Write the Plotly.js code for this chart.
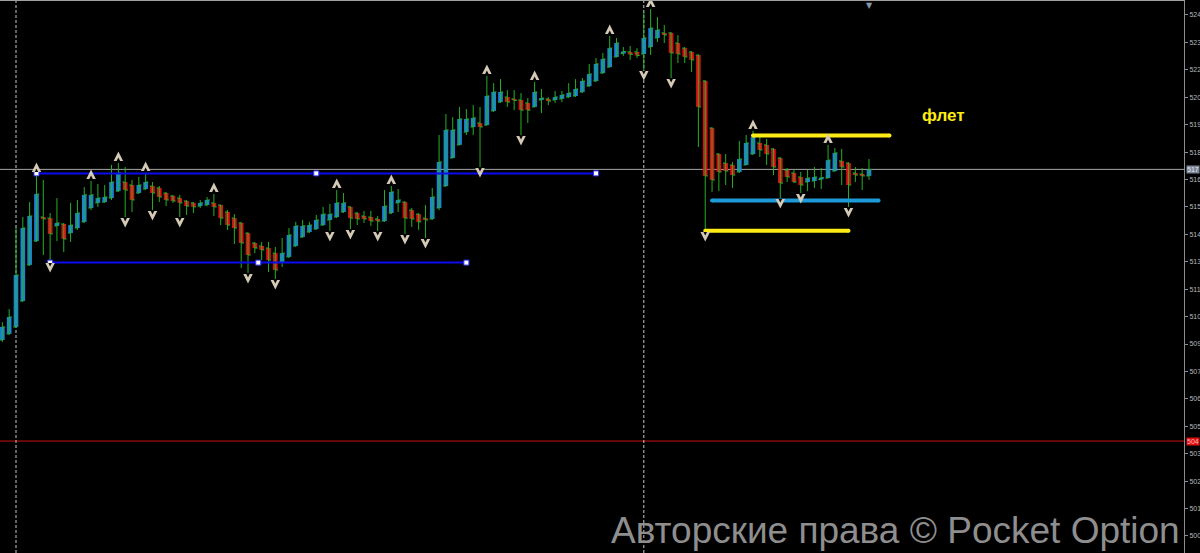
<!DOCTYPE html>
<html>
<head>
<meta charset="utf-8">
<script src="https://cdn.plot.ly/plotly-3.0.1.min.js"></script>
<style>
  html, body { margin: 0; padding: 0; background: #000; overflow: hidden; }
  #chart { width: 1200px; height: 553px; }
</style>
</head>
<body>
<div id="chart"></div>
<script>
// ---- price bars (oldest first) ----
const open = [
  5093.4, 5096.3, 5099.6, 5111.9, 5129.0, 5140.3, 5151.7, 5151.2, 5147.5, 5148.4,
  5144.1, 5146.5, 5149.4, 5156.0, 5158.4, 5158.8, 5160.7, 5164.0, 5168.3, 5166.9,
  5163.1, 5165.0, 5166.4, 5165.5, 5163.1, 5161.7, 5160.7, 5159.3, 5158.4, 5156.9,
  5157.4, 5158.4, 5157.4, 5154.1, 5151.2, 5148.9, 5144.1, 5139.4, 5138.0, 5137.0,
  5134.6, 5130.4, 5132.8, 5138.0, 5142.2, 5144.6, 5146.0, 5147.9, 5150.3, 5151.7,
  5154.1, 5156.5, 5153.6, 5152.2, 5151.7, 5150.8, 5149.8, 5153.6, 5158.4, 5158.8,
  5155.0, 5153.1, 5151.2, 5150.8, 5156.0, 5166.4, 5179.7, 5185.9, 5192.0, 5194.4,
  5196.3, 5195.3, 5202.0, 5206.2, 5208.6, 5207.7, 5207.2, 5205.8, 5203.9, 5207.2,
  5207.7, 5207.2, 5207.7, 5208.6, 5209.1, 5211.0, 5213.8, 5216.2, 5220.0, 5222.8,
  5227.6, 5229.2, 5230.0, 5230.0, 5229.0, 5232.3, 5236.6, 5239.0, 5239.0, 5234.2,
  5231.8, 5230.0, 5228.5, 5216.2, 5193.9, 5181.6, 5177.3, 5176.4, 5173.1, 5176.4,
  5181.6, 5186.8, 5185.9, 5184.0, 5179.7, 5174.0, 5172.6, 5170.7, 5168.3, 5168.8,
  5169.5, 5170.2, 5173.5, 5178.3, 5177.3, 5172.6, 5172.1, 5171.2
];
const high = [
  5101.9, 5108.1, 5147.0, 5151.7, 5158.8, 5172.1, 5169.3, 5153.6, 5160.7, 5148.9,
  5158.4, 5159.8, 5165.9, 5168.8, 5167.4, 5166.9, 5176.4, 5177.3, 5175.4, 5169.3,
  5170.7, 5172.6, 5168.3, 5166.4, 5163.6, 5162.2, 5162.2, 5159.8, 5158.8, 5159.8,
  5161.2, 5162.6, 5157.6, 5155.0, 5153.1, 5149.4, 5144.5, 5139.8, 5139.9, 5139.9,
  5137.5, 5141.8, 5146.5, 5149.4, 5150.3, 5149.4, 5152.7, 5156.5, 5157.9, 5164.5,
  5163.1, 5156.9, 5154.1, 5154.6, 5154.6, 5152.2, 5164.5, 5166.4, 5165.0, 5159.3,
  5156.0, 5153.6, 5157.4, 5165.5, 5190.6, 5200.6, 5199.1, 5203.9, 5202.9, 5204.8,
  5203.9, 5218.6, 5215.2, 5217.1, 5211.9, 5211.9, 5210.5, 5208.1, 5215.7, 5212.4,
  5208.6, 5211.5, 5211.5, 5215.2, 5217.1, 5217.6, 5224.3, 5227.1, 5229.5, 5237.5,
  5236.6, 5232.3, 5232.8, 5231.8, 5248.9, 5250.3, 5246.5, 5242.8, 5239.4, 5238.0,
  5232.3, 5230.4, 5228.9, 5216.7, 5194.3, 5182.0, 5181.6, 5177.8, 5187.8, 5190.6,
  5192.5, 5190.1, 5188.7, 5184.4, 5180.1, 5175.0, 5174.5, 5173.1, 5174.0, 5175.4,
  5175.0, 5185.9, 5184.4, 5184.0, 5177.7, 5175.4, 5175.0, 5179.2
];
const low = [
  5092.5, 5095.8, 5099.1, 5111.4, 5128.5, 5139.9, 5133.7, 5130.4, 5140.3, 5135.1,
  5139.9, 5145.6, 5148.9, 5155.0, 5156.5, 5158.4, 5159.8, 5163.6, 5151.7, 5154.1,
  5162.6, 5164.5, 5155.0, 5158.8, 5156.9, 5158.4, 5151.7, 5152.7, 5153.6, 5156.0,
  5156.9, 5152.2, 5147.9, 5145.6, 5138.9, 5127.5, 5125.2, 5134.6, 5131.3, 5125.6,
  5122.3, 5128.0, 5132.3, 5137.5, 5141.9, 5144.1, 5145.6, 5147.5, 5145.1, 5151.2,
  5153.6, 5146.0, 5147.9, 5148.9, 5147.5, 5145.1, 5149.4, 5153.1, 5154.1, 5143.7,
  5147.0, 5145.6, 5141.8, 5150.3, 5155.0, 5166.0, 5179.5, 5185.7, 5190.6, 5190.6,
  5175.4, 5195.1, 5201.5, 5205.8, 5203.9, 5202.4, 5190.6, 5196.3, 5203.7, 5201.0,
  5204.8, 5205.8, 5206.2, 5208.1, 5208.6, 5210.5, 5213.4, 5215.7, 5219.5, 5222.6,
  5227.4, 5228.1, 5226.2, 5227.1, 5221.4, 5228.5, 5234.7, 5234.2, 5217.6, 5224.7,
  5224.7, 5220.5, 5184.9, 5145.1, 5163.6, 5164.0, 5166.9, 5165.5, 5172.6, 5176.2,
  5181.1, 5180.2, 5176.4, 5171.6, 5160.7, 5168.3, 5167.8, 5163.1, 5164.0, 5165.5,
  5165.0, 5170.0, 5173.3, 5166.9, 5156.5, 5168.3, 5164.5, 5169.3
];
const close = [
  5099.6, 5104.3, 5124.2, 5146.5, 5152.2, 5162.6, 5150.8, 5143.7, 5148.9, 5141.3,
  5147.9, 5153.6, 5162.2, 5162.2, 5160.7, 5161.2, 5168.3, 5172.6, 5164.5, 5159.8,
  5166.9, 5168.3, 5163.1, 5161.2, 5159.8, 5159.3, 5158.4, 5156.9, 5156.5, 5158.4,
  5159.8, 5156.5, 5151.2, 5147.9, 5146.5, 5139.4, 5133.7, 5137.0, 5136.1, 5131.3,
  5126.6, 5134.6, 5143.2, 5147.5, 5147.5, 5147.9, 5150.3, 5153.1, 5153.1, 5158.4,
  5158.4, 5151.2, 5150.8, 5150.8, 5149.8, 5149.8, 5156.9, 5163.6, 5159.8, 5151.2,
  5150.8, 5149.4, 5150.3, 5161.2, 5177.8, 5193.0, 5193.0, 5198.2, 5198.2, 5198.7,
  5194.4, 5209.1, 5211.0, 5211.0, 5206.2, 5207.0, 5202.4, 5202.4, 5211.0, 5208.1,
  5206.7, 5208.6, 5209.6, 5210.5, 5212.4, 5216.2, 5219.5, 5224.3, 5226.6, 5231.8,
  5234.2, 5230.2, 5228.8, 5228.3, 5236.6, 5241.3, 5240.4, 5238.0, 5229.5, 5229.0,
  5227.6, 5226.2, 5203.9, 5171.2, 5169.3, 5173.1, 5173.5, 5171.6, 5179.2, 5186.8,
  5189.6, 5183.5, 5181.6, 5175.4, 5167.8, 5170.7, 5168.3, 5166.9, 5170.2, 5170.7,
  5170.4, 5178.7, 5182.1, 5175.4, 5166.9, 5171.6, 5171.2, 5174.3
];

// ---- fractal bars ----
const fractalUp   = [5, 13, 17, 21, 31, 49, 57, 71, 78, 89, 95, 110, 121];
const fractalDown = [7, 18, 22, 26, 36, 40, 48, 51, 55, 59, 62, 70, 76, 94, 98, 103, 114, 117, 124];

// ---- day separators (bar index) ----
const separators = [2, 94];

// ---- drawn levels: price and bar span ----
const rangeTopPrice = 5172.4;  const rangeTopBars = [5, 46, 87];
const rangeLowPrice = 5130.1;  const rangeLowBars = [7, 37.5, 68];
const flatHighPrice = 5190.4;  const flatHighBars = [110, 130];
const flatMidPrice  = 5159.5;  const flatMidBars  = [104, 128.4];
const flatLowPrice  = 5145.2;  const flatLowBars  = [103, 124];

// ---- price lines ----
const bidPrice = 5174.3;
const alertPrice = 5045.5;

// ---- price scale ticks ----
const yTickStart = 5247.5;
const yTickStep = 13;

// ---------------------------------------------------------------
const W = 1200, H = 553;
const M = { l: 0, r: 16, t: 1, b: 0 };
const plotW = W - M.l - M.r;
const plotH = H - M.t - M.b;
const yRange = [4992.42, 5254.13];
const xRange = [-0.344, 173.16];
const ppx = (yRange[1] - yRange[0]) / plotH;   // price per pixel

// the narrow price scale only has room for the leading digits
const shortPrice = v => String(Math.floor(v / 10));

const yTickVals = [];
for (let v = yTickStart; v > yRange[0]; v -= yTickStep) yTickVals.push(v);

const GREEN = '#25b025';
const BLUE = '#1f92ea';
const RED = '#f01414';
const ARROW = '#d4cab6';
const AXIS_FONT = 'Liberation Sans, Arial, sans-serif';

const idx = open.map((_, i) => i);
const bodyBase = open.map((o, i) => Math.min(o, close[i]));
const bodyLen = open.map((o, i) => Math.abs(close[i] - o));
const bodyCol = open.map((o, i) => close[i] >= o ? BLUE : RED);

const traces = [];

// green OHLC bars under the coloured bodies
traces.push({
  type: 'ohlc', x: idx, open: open, high: high, low: low, close: close,
  increasing: { line: { color: GREEN, width: 1 } },
  decreasing: { line: { color: GREEN, width: 1 } },
  tickwidth: 0.4, hoverinfo: 'skip'
});

// candle bodies
traces.push({
  type: 'bar', x: idx, base: bodyBase, y: bodyLen, width: 0.68,
  marker: { color: bodyCol, opacity: 0.9, line: { width: 0 } },
  hoverinfo: 'skip'
});

// channel lines with anchor points
function anchoredLine(bars, price) {
  return [{
    type: 'scatter', mode: 'lines',
    x: [bars[0], bars[bars.length - 1]], y: [price, price],
    line: { color: '#0b0bf0', width: 2 }, hoverinfo: 'skip'
  }, {
    type: 'scatter', mode: 'markers',
    x: bars, y: bars.map(() => price),
    marker: { symbol: 'square', size: 5, color: '#ffffff', line: { color: '#3030ff', width: 1 } },
    hoverinfo: 'skip'
  }];
}
traces.push(...anchoredLine(rangeTopBars, rangeTopPrice));
traces.push(...anchoredLine(rangeLowBars, rangeLowPrice));

// flat-zone levels
function thickLevel(bars, price, color) {
  return {
    type: 'scatter', mode: 'lines+markers',
    x: bars, y: bars.map(() => price),
    line: { color: color, width: 4 },
    marker: { size: 4, color: color },
    hoverinfo: 'skip'
  };
}
traces.push(thickLevel(flatHighBars, flatHighPrice, '#ffec14'));
traces.push(thickLevel(flatMidBars, flatMidPrice, '#1e9ad8'));
traces.push(thickLevel(flatLowBars, flatLowPrice, '#ffec14'));

// fractal arrows (arrowhead with a notch cut into its base)
traces.push({
  type: 'scatter', mode: 'markers', x: fractalUp,
  y: fractalUp.map(i => high[i] + 11.5 * ppx),
  marker: { symbol: 'arrow-up', size: 9.5, color: ARROW, line: { width: 0 } },
  hoverinfo: 'skip'
});
traces.push({
  type: 'scatter', mode: 'markers', x: fractalUp,
  y: fractalUp.map(i => high[i] + 5.5 * ppx),
  marker: { symbol: 'arrow-up', size: 3.5, color: '#000', line: { width: 0 } },
  hoverinfo: 'skip'
});
traces.push({
  type: 'scatter', mode: 'markers', x: fractalDown,
  y: fractalDown.map(i => low[i] - 10.5 * ppx),
  marker: { symbol: 'arrow-down', size: 9.5, color: ARROW, line: { width: 0 } },
  hoverinfo: 'skip'
});
traces.push({
  type: 'scatter', mode: 'markers', x: fractalDown,
  y: fractalDown.map(i => low[i] - 4.5 * ppx),
  marker: { symbol: 'arrow-down', size: 3.5, color: '#000', line: { width: 0 } },
  hoverinfo: 'skip'
});

const shapes = [
  { type: 'line', xref: 'paper', x0: 0, x1: 1, yref: 'y', y0: bidPrice, y1: bidPrice,
    line: { color: '#a6a6a6', width: 1 }, layer: 'below' },
  { type: 'line', xref: 'paper', x0: 0, x1: 1, yref: 'y', y0: alertPrice, y1: alertPrice,
    line: { color: '#c81010', width: 1 }, layer: 'below' }
];
separators.forEach(s => shapes.push({
  type: 'line', xref: 'x', x0: s, x1: s, yref: 'paper', y0: 0, y1: 1,
  line: { color: '#c8c8c8', width: 1, dash: '3px,2px' }, layer: 'below'
}));

const annotations = [
  { xref: 'paper', x: 1 + 2 / plotW, xanchor: 'left', yref: 'y', y: bidPrice,
    text: shortPrice(bidPrice), showarrow: false, bgcolor: '#7a8796', borderpad: 0,
    font: { family: AXIS_FONT, size: 7, color: '#e4eaf0' } },
  { xref: 'paper', x: 1 + 2 / plotW, xanchor: 'left', yref: 'y', y: alertPrice,
    text: shortPrice(alertPrice), showarrow: false, bgcolor: '#e01010', borderpad: 0,
    font: { family: AXIS_FONT, size: 7, color: '#ffb4b4' } },
  { xref: 'x', x: idx[idx.length - 1], yref: 'paper', y: 1.004, yanchor: 'top',
    text: '▼', showarrow: false,
    font: { family: 'DejaVu Sans, sans-serif', size: 8, color: '#8796a8' } },
  { xref: 'paper', x: 0.7965, yref: 'paper', y: 0.7926, xanchor: 'center', yanchor: 'middle',
    text: '<b>флет</b>', showarrow: false,
    font: { family: 'Liberation Sans, Arial, sans-serif', size: 17, color: '#ffec14' } },
  { xref: 'paper', x: 0.7563, yref: 'paper', y: 0.040, xanchor: 'center', yanchor: 'middle',
    text: 'Авторские права © Pocket Option', showarrow: false,
    font: { family: 'Liberation Sans, Arial, sans-serif', size: 37, color: '#8e8e8e' } }
];

const layout = {
  width: W, height: H, margin: M,
  paper_bgcolor: '#000', plot_bgcolor: '#000',
  showlegend: false, hovermode: false, dragmode: false,
  xaxis: {
    range: xRange, side: 'top', showgrid: false, zeroline: false,
    showticklabels: false, ticks: '', showline: true, linecolor: '#a0a0a0', linewidth: 1,
    rangeslider: { visible: false }, fixedrange: true
  },
  yaxis: {
    range: yRange, side: 'right', showgrid: false, zeroline: false,
    showline: true, linecolor: '#8c8c8c', linewidth: 1,
    ticks: 'outside', ticklen: 3, tickcolor: '#8c8c8c',
    tickmode: 'array', tickvals: yTickVals, ticktext: yTickVals.map(shortPrice),
    tickfont: { family: AXIS_FONT, size: 7, color: '#b8b8b8' },
    fixedrange: true
  },
  shapes: shapes,
  annotations: annotations
};

Plotly.newPlot('chart', traces, layout, { staticPlot: true, displayModeBar: false });
</script>
</body>
</html>
